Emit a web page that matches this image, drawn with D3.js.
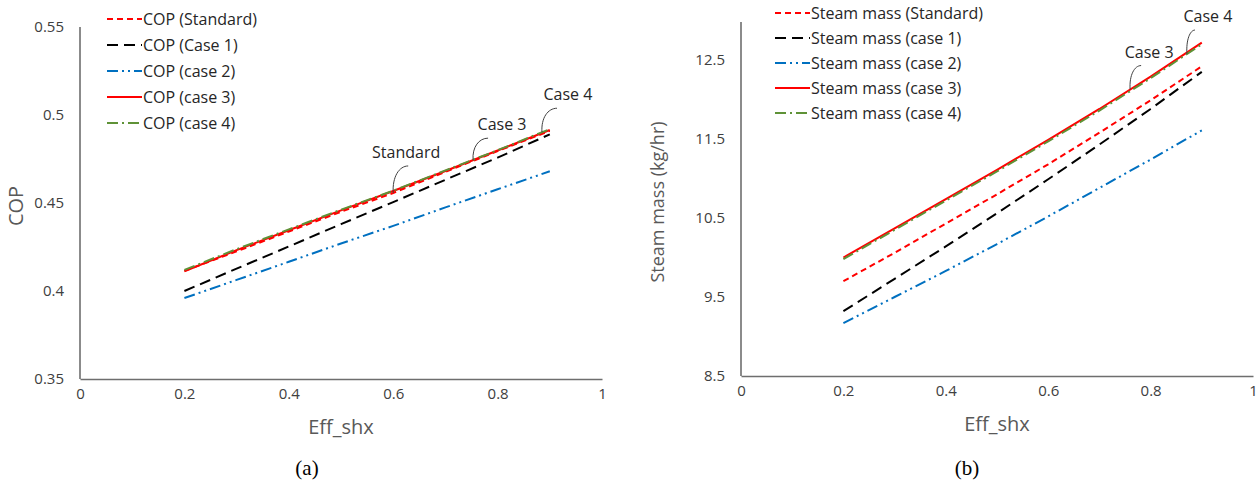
<!DOCTYPE html>
<html>
<head>
<meta charset="utf-8">
<script src="https://cdn.jsdelivr.net/npm/d3@7"></script>
<style>
  body { margin: 0; background: #fff; }
  svg text { font-family: "Open Sans", "DejaVu Sans", sans-serif; }
</style>
</head>
<body>
<div id="chart"></div>
<script>
// shared x values (Eff_shx)
const effShx = [0.2, 0.3, 0.4, 0.5, 0.6, 0.7, 0.8, 0.9];
const xTicks = [0, 0.2, 0.4, 0.6, 0.8, 1];

// (a) COP
const copStandard = [0.4114, 0.4225, 0.4338, 0.4450, 0.4557, 0.4677, 0.4795, 0.4910];
const copCase1    = [0.4000, 0.4127, 0.4253, 0.4380, 0.4505, 0.4632, 0.4758, 0.4890];
const copCase2    = [0.3960, 0.4063, 0.4166, 0.4270, 0.4370, 0.4475, 0.4578, 0.4680];
const copCase3    = [0.4112, 0.4232, 0.4345, 0.4458, 0.4568, 0.4682, 0.4798, 0.4915];
const copCase4    = [0.4120, 0.4238, 0.4350, 0.4462, 0.4570, 0.4685, 0.4800, 0.4920];
const copTicks = [0.35, 0.4, 0.45, 0.5, 0.55];
const copNames = ["COP (Standard)", "COP (Case 1)", "COP (case 2)", "COP (case 3)", "COP (case 4)"];

// (b) Steam mass (kg/hr)
const steamStandard = [9.70, 10.06, 10.43, 10.80, 11.18, 11.58, 11.99, 12.42];
const steamCase1    = [9.32, 9.73, 10.14, 10.56, 10.99, 11.43, 11.88, 12.35];
const steamCase2    = [9.17, 9.50, 9.83, 10.17, 10.52, 10.88, 11.24, 11.61];
const steamCase3    = [10.00, 10.37, 10.74, 11.11, 11.49, 11.88, 12.29, 12.72];
const steamCase4    = [9.98, 10.35, 10.72, 11.09, 11.47, 11.86, 12.27, 12.70];
const steamTicks = [8.5, 9.5, 10.5, 11.5, 12.5];
const steamNames = ["Steam mass (Standard)", "Steam mass (case 1)", "Steam mass (case 2)", "Steam mass (case 3)", "Steam mass (case 4)"];

// line styles, same order as the series
const styles = [
  {color: "#ff0000", dash: "6,4"},
  {color: "#000000", dash: "11,6"},
  {color: "#0070c0", dash: "11,4,2,4,2,4"},
  {color: "#ff0000", dash: null},
  {color: "#5f9237", dash: "11,4,2,4"}
];

const svg = d3.select("#chart").append("svg")
  .attr("width", 1260)
  .attr("height", 480);

function drawPanel(cfg) {
  const x = d3.scaleLinear().domain([0, 1]).range([cfg.left, cfg.right]);
  const y = d3.scaleLinear().domain(cfg.yDomain).range([cfg.bottom, cfg.top]);
  const g = svg.append("g");

  // axes (no tick marks, just line + labels)
  const xAxis = g.append("g")
    .attr("transform", `translate(0,${cfg.bottom})`)
    .call(d3.axisBottom(x).tickValues(xTicks).tickSize(0).tickPadding(14).tickFormat(d3.format("")));
  const yAxis = g.append("g")
    .attr("transform", `translate(${cfg.left},0)`)
    .call(d3.axisLeft(y).tickValues(cfg.yTicks).tickSize(0).tickPadding(16).tickFormat(d3.format("")));
  [xAxis, yAxis].forEach(a => {
    a.select(".domain").attr("stroke", "#6e6e6e").attr("stroke-width", 1.6);
    a.selectAll("text").attr("font-size", 15).attr("fill", "#404040")
      .style("font-family", "'Open Sans', sans-serif");
  });
  yAxis.select(".domain").attr("d", `M0,${cfg.bottom}V${cfg.axisTop}`);
  xAxis.selectAll("text").attr("dy", "0.4em");

  // axis titles
  g.append("text")
    .attr("x", (cfg.left + cfg.right) / 2)
    .attr("y", cfg.bottom + 55)
    .attr("text-anchor", "middle")
    .attr("font-size", 20)
    .attr("fill", "#595959")
    .text("Eff_shx");
  g.append("text")
    .attr("transform", `translate(${cfg.yTitleX},${cfg.yTitleY}) rotate(-90)`)
    .attr("text-anchor", "middle")
    .attr("font-size", cfg.yTitleSize)
    .attr("fill", "#595959")
    .text(cfg.yTitle);

  // caption
  g.append("text")
    .attr("x", cfg.captionX)
    .attr("y", 475)
    .attr("text-anchor", "middle")
    .attr("font-size", 21)
    .style("font-family", "'Liberation Serif', 'Times New Roman', serif")
    .attr("fill", "#000")
    .text(cfg.caption);

  // series lines
  const line = d3.line().x((d, i) => x(effShx[i])).y(d => y(d));
  cfg.series.forEach((s, i) => {
    g.append("path")
      .datum(s)
      .attr("fill", "none")
      .attr("stroke", styles[i].color)
      .attr("stroke-width", 2)
      .attr("stroke-dasharray", styles[i].dash)
      .attr("d", line);
  });

  // legend
  cfg.names.forEach((name, i) => {
    const ly = cfg.legendY + i * cfg.legendStep;
    g.append("line")
      .attr("x1", cfg.legendX).attr("x2", cfg.legendX + 35)
      .attr("y1", ly).attr("y2", ly)
      .attr("stroke", styles[i].color)
      .attr("stroke-width", 2)
      .attr("stroke-dasharray", styles[i].dash);
    g.append("text")
      .attr("x", cfg.legendX + 36)
      .attr("y", ly)
      .attr("dy", "0.35em")
      .attr("font-size", 16)
      .attr("fill", "#262626")
      .text(name);
  });

  // callouts with curved leader lines
  cfg.notes.forEach(n => {
    const vals = cfg.series[n.series];
    const v = d3.scaleLinear().domain(effShx).range(vals)(n.at);
    const px = x(n.at), py = y(v);
    const ex = px + n.dx, ey = py + n.dy;
    g.append("path")
      .attr("fill", "none")
      .attr("stroke", "#404040")
      .attr("stroke-width", 1)
      .attr("d", `M${px},${py} C${px - 1},${py + n.dy * 0.6} ${ex - n.dx * 0.6},${ey} ${ex},${ey}`);
    g.append("text")
      .attr("x", ex + n.tx)
      .attr("y", ey - 8)
      .attr("text-anchor", "middle")
      .attr("font-size", 16)
      .attr("fill", "#262626")
      .text(n.label);
  });
}

drawPanel({
  left: 80, right: 602, top: 27, bottom: 379, axisTop: 27,
  yDomain: [0.35, 0.55], yTicks: copTicks,
  series: [copStandard, copCase1, copCase2, copCase3, copCase4],
  names: copNames,
  yTitle: "COP", yTitleX: 23, yTitleY: 206, yTitleSize: 20,
  caption: "(a)", captionX: 307,
  legendX: 107, legendY: 19, legendStep: 26,
  notes: [
    {series: 0, at: 0.6, dx: 15, dy: -27, tx: -2, label: "Standard"},
    {series: 3, at: 0.753, dx: 15, dy: -22, tx: 14, label: "Case 3"},
    {series: 4, at: 0.885, dx: 15, dy: -24, tx: 11, label: "Case 4"}
  ]
});

drawPanel({
  left: 741, right: 1253, top: 20.5, bottom: 376, axisTop: 22,
  yDomain: [8.5, 13], yTicks: steamTicks,
  series: [steamStandard, steamCase1, steamCase2, steamCase3, steamCase4],
  names: steamNames,
  yTitle: "Steam mass (kg/hr)", yTitleX: 664, yTitleY: 202, yTitleSize: 18,
  caption: "(b)", captionX: 967,
  legendX: 775, legendY: 13, legendStep: 25,
  notes: [
    {series: 3, at: 0.76, dx: 11, dy: -24, tx: 8, label: "Case 3"},
    {series: 4, at: 0.871, dx: 8, dy: -24, tx: 13, label: "Case 4"}
  ]
});
</script>
</body>
</html>
